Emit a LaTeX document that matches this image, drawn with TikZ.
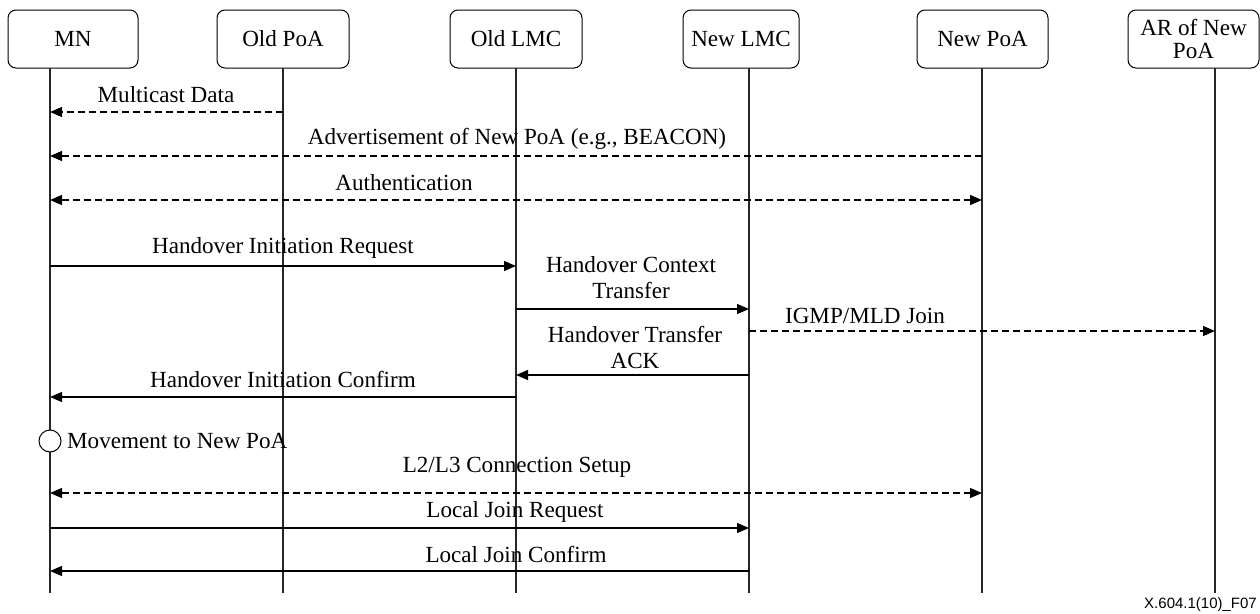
\documentclass[tikz,border=0pt]{standalone}
\usepackage{fontspec}
\setmainfont{Liberation Serif}
\newfontfamily\footfont{Liberation Sans}
\usetikzlibrary{arrows.meta}
\begin{document}
\begin{tikzpicture}[x=1pt,y=-1pt,
  every node/.style={font=\fontsize{23.1pt}{26pt}\selectfont},
  box/.style={draw, rounded corners=8pt, line width=1pt, minimum height=58pt, align=center, inner sep=0pt},
  lifeline/.style={line width=1.2pt, draw=black!85},
  msg/.style={line width=1.2pt, -{Triangle[length=12pt,width=10pt]}},
  dmsg/.style={msg, dash pattern=on 7pt off 4pt},
  ddmsg/.style={line width=1.2pt, {Triangle[length=12pt,width=10pt]}-{Triangle[length=12pt,width=10pt]}, dash pattern=on 7pt off 4pt},
  lbl/.style={anchor=base, inner sep=0pt},
  lbl2/.style={anchor=center, inner sep=0pt, align=center}]
\useasboundingbox (0,0) rectangle (1260,613);

% participant boxes
\node[box, minimum width=130pt] (mn) at (73,39) {MN};
\node[box, minimum width=132pt] (oldpoa) at (283,39) {Old PoA};
\node[box, minimum width=132pt] (oldlmc) at (516,39) {Old LMC};
\node[box, minimum width=116pt] (newlmc) at (741,39) {New LMC};
\node[box, minimum width=131pt] (newpoa) at (982.5,39) {New PoA};
\node[box, minimum width=131pt] (ar) at (1193.5,39) {AR of New\\[-3pt]PoA};

% lifelines
\coordinate (mnL) at (50,68);   \coordinate (mnB) at (50,593);
\coordinate (opL) at (283,68);  \coordinate (opB) at (283,593);
\coordinate (olL) at (516,68);  \coordinate (olB) at (516,593);
\coordinate (nlL) at (749,68);  \coordinate (nlB) at (749,593);
\coordinate (npL) at (982,68);  \coordinate (npB) at (982,593);
\coordinate (arL) at (1215,68); \coordinate (arB) at (1215,593);
\foreach \t/\b in {mnL/mnB, opL/opB, olL/olB, nlL/nlB, npL/npB, arL/arB}
  \draw[lifeline] (\t) -- (\b);

% message rows
\coordinate (r1) at (0,112);
\coordinate (r2) at (0,156);
\coordinate (r3) at (0,200);
\coordinate (r4) at (0,266);
\coordinate (r5) at (0,309);
\coordinate (r6) at (0,331);
\coordinate (r7) at (0,375);
\coordinate (r8) at (0,397);
\coordinate (r9) at (0,441);
\coordinate (r10) at (0,493);
\coordinate (r11) at (0,528);
\coordinate (r12) at (0,571);

\draw[dmsg] (opL |- r1) -- (mnL |- r1);
\node[lbl] (t1) at (166,102) {Multicast Data};

\draw[dmsg] (npL |- r2) -- (mnL |- r2);
\node[lbl] (t2) at (517,144) {Advertisement of New PoA (e.g., BEACON)};

\draw[ddmsg] (mnL |- r3) -- (npL |- r3);
\node[lbl] (t3) at (404,190) {Authentication};

\draw[msg] (mnL |- r4) -- (olL |- r4);
\node[lbl] (t4) at (283,253) {Handover Initiation Request};

\draw[msg] (olL |- r5) -- (nlL |- r5);
\node[lbl2] (t5) at (631,278) {Handover Context\\Transfer};

\draw[dmsg] (nlL |- r6) -- (arL |- r6);
\node[lbl] (t6) at (865,323) {IGMP/MLD Join};

\draw[msg] (nlL |- r7) -- (olL |- r7);
\node[lbl2] (t7) at (635,347) {Handover Transfer\\ACK};

\draw[msg] (olL |- r8) -- (mnL |- r8);
\node[lbl] (t8) at (283,387) {Handover Initiation Confirm};

\node[circle, draw, fill=white, line width=1pt, minimum size=22pt, inner sep=0pt] (move) at (mnL |- r9) {};
\node[anchor=base west, inner sep=0pt] (t9) at (67,448) {Movement to New PoA};

\draw[ddmsg] (mnL |- r10) -- (npL |- r10);
\node[lbl] (t10) at (517,472) {L2/L3 Connection Setup};

\draw[msg] (mnL |- r11) -- (nlL |- r11);
\node[lbl] (t11) at (515,517) {Local Join Request};

\draw[msg] (nlL |- r12) -- (mnL |- r12);
\node[lbl] (t12) at (516,562) {Local Join Confirm};

\node[anchor=base east, inner sep=0pt, font=\footfont\fontsize{15pt}{18pt}\selectfont] (fig) at (1257,608) {X.604.1(10)\_F07};
\end{tikzpicture}
\end{document}
